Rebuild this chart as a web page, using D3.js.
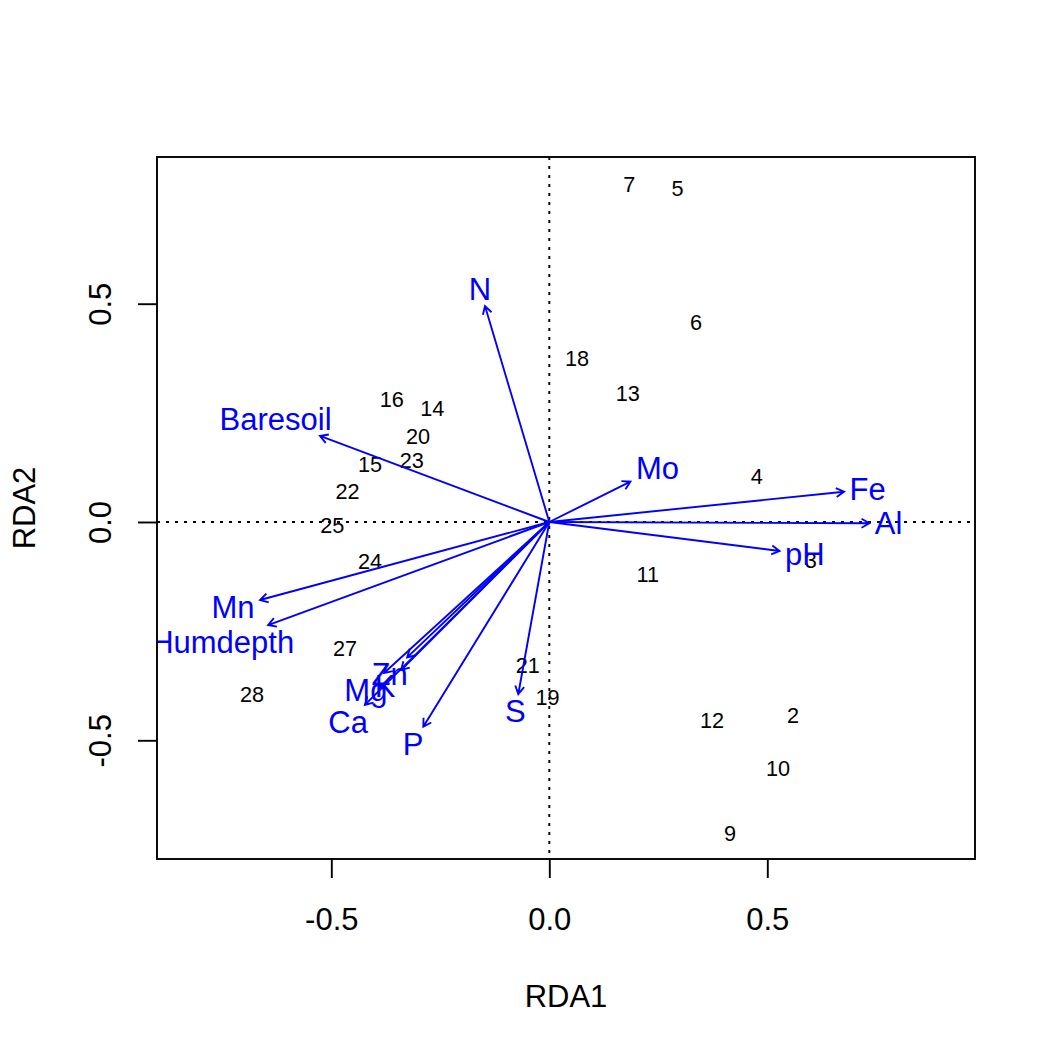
<!DOCTYPE html>
<html>
<head>
<meta charset="utf-8">
<script src="https://d3js.org/d3.v7.min.js"></script>
<style>
  body { margin: 0; background: #fff; }
  text { font-family: "Liberation Sans", Arial, Helvetica, sans-serif; }
</style>
</head>
<body>
<div id="my_dataviz"></div>
<script>
// site scores (RDA1, RDA2)
const siteNames = ["18","15","24","27","23","19","22","16","28","13","14","20",
                   "25","7","5","6","3","4","2","9","12","10","11","21"];
const siteRDA1 = [0.0635,-0.4112,-0.4112,-0.4686,-0.3156,-0.0041,-0.4628,-0.3615,-0.6819,0.1798,-0.2683,-0.3011,
                  -0.4977,0.1833,0.2940,0.3365,0.5998,0.4757,0.5589,0.4145,0.3732,0.5245,0.2257,-0.0495];
const siteRDA2 = [0.3740,0.1333,-0.0889,-0.2881,0.1409,-0.4013,0.0694,0.2822,-0.3956,0.2939,0.2604,0.1963,
                  -0.0069,0.7746,0.7643,0.4574,-0.0886,0.1038,-0.4420,-0.7123,-0.4535,-0.5634,-0.1202,-0.3282];

// biplot arrows for the environmental variables
const envNames = ["N","P","K","Ca","Mg","S","Al","Fe","Mn","Zn","Mo","Baresoil","Humdepth","pH"];
const envRDA1 = [-0.1475,-0.289,-0.340,-0.423,-0.379,-0.0711,0.734,0.676,-0.6635,-0.326,0.186,-0.526,-0.645,0.528];
const envRDA2 = [0.4947,-0.469,-0.339,-0.419,-0.346,-0.394,-0.003,0.0694,-0.1787,-0.310,0.0923,0.197,-0.236,-0.0664];

const xTicks = [-0.5, 0, 0.5];
const yTicks = [-0.5, 0, 0.5];
const xlim = [-0.8998, 0.9764];
const ylim = [-0.7719, 0.836];

const W = 1056, H = 1056;
const box = {left: 157, right: 975, top: 157, bottom: 859};
const fs = 31;          // cex = 1
const siteFs = 21.7;    // cex = 0.7
const lwd = 1.9;

const svg = d3.select("#my_dataviz")
  .append("svg")
    .attr("width", W)
    .attr("height", H);

const x = d3.scaleLinear().domain(xlim).range([box.left, box.right]);
const y = d3.scaleLinear().domain(ylim).range([box.bottom, box.top]);

svg.append("defs").append("clipPath").attr("id", "plotclip")
  .append("rect")
    .attr("x", box.left).attr("y", box.top)
    .attr("width", box.right - box.left).attr("height", box.bottom - box.top);

const plotG = svg.append("g").attr("clip-path", "url(#plotclip)");

// dotted reference lines through origin
plotG.append("line")
  .attr("x1", box.left).attr("x2", box.right)
  .attr("y1", y(0)).attr("y2", y(0))
  .attr("stroke", "black").attr("stroke-width", lwd).attr("stroke-dasharray", "3,6");
plotG.append("line")
  .attr("x1", x(0)).attr("x2", x(0))
  .attr("y1", box.top).attr("y2", box.bottom)
  .attr("stroke", "black").attr("stroke-width", lwd).attr("stroke-dasharray", "3,6");

// sites as text
plotG.selectAll(".site")
  .data(siteNames)
  .join("text")
    .attr("class", "site")
    .attr("x", (d, i) => x(siteRDA1[i]))
    .attr("y", (d, i) => y(siteRDA2[i]))
    .attr("dy", "0.358em")
    .attr("text-anchor", "middle")
    .style("font-size", siteFs + "px")
    .attr("fill", "black")
    .text(d => d);

// arrows
const headLen = 9, headAng = Math.PI / 6;
const env = envNames.map((d, i) => ({name: d, tx: x(envRDA1[i]), ty: y(envRDA2[i])}));
const ox = x(0), oy = y(0);

plotG.selectAll(".arrow")
  .data(env)
  .join("path")
    .attr("class", "arrow")
    .attr("fill", "none")
    .attr("stroke", "blue")
    .attr("stroke-width", lwd)
    .attr("d", d => {
      const a = Math.atan2(d.ty - oy, d.tx - ox);
      const p1 = [d.tx - headLen * Math.cos(a - headAng), d.ty - headLen * Math.sin(a - headAng)];
      const p2 = [d.tx - headLen * Math.cos(a + headAng), d.ty - headLen * Math.sin(a + headAng)];
      return `M${ox},${oy}L${d.tx},${d.ty}M${p1[0]},${p1[1]}L${d.tx},${d.ty}L${p2[0]},${p2[1]}`;
    });

// labels next to the arrow heads (like vegan's ordiArrowTextXY)
const labs = plotG.selectAll(".envlab")
  .data(env)
  .join("text")
    .attr("class", "envlab")
    .attr("text-anchor", "middle")
    .attr("dy", "0.358em")
    .style("font-size", fs + "px")
    .attr("fill", "blue")
    .text(d => d.name);

labs.each(function(d) {
  const w = this.getComputedTextLength();
  const h = 0.716 * fs;
  const dx = d.tx - ox, dy = oy - d.ty;
  const b = dy / dx;
  let offx = Math.sign(dx) * (w / 2 + h / 4);
  let offy = 0.75 * h * Math.sign(dy);
  const move = offy / b;
  if (isFinite(move) && Math.abs(move) <= Math.abs(offx)) offx = move;
  else offy = b * offx;
  d3.select(this).attr("x", d.tx + offx).attr("y", d.ty - offy);
});

// box
svg.append("rect")
  .attr("x", box.left).attr("y", box.top)
  .attr("width", box.right - box.left).attr("height", box.bottom - box.top)
  .attr("fill", "none").attr("stroke", "black").attr("stroke-width", lwd);

// axes
const fmt = d => d.toFixed(1);
const xAxis = svg.append("g")
  .attr("transform", `translate(0,${box.bottom})`)
  .call(d3.axisBottom(x).tickValues(xTicks).tickFormat(fmt).tickSize(19));
xAxis.select(".domain").remove();
xAxis.selectAll(".tick line").attr("stroke", "black").attr("stroke-width", lwd);
xAxis.selectAll(".tick text")
  .attr("y", 60).attr("dy", "0.358em")
  .attr("fill", "black")
  .style("font-size", fs + "px")
  .style("font-family", '"Liberation Sans", Arial, sans-serif');

const yAxis = svg.append("g")
  .attr("transform", `translate(${box.left},0)`)
  .call(d3.axisLeft(y).tickValues(yTicks).tickFormat(fmt).tickSize(19));
yAxis.select(".domain").remove();
yAxis.selectAll(".tick line").attr("stroke", "black").attr("stroke-width", lwd);
yAxis.selectAll(".tick text")
  .attr("x", 0).attr("y", 0).attr("dy", "0.358em")
  .attr("text-anchor", "middle")
  .attr("transform", "translate(-57,0) rotate(-90)")
  .attr("fill", "black")
  .style("font-size", fs + "px")
  .style("font-family", '"Liberation Sans", Arial, sans-serif');

// axis titles
svg.append("text")
  .attr("x", (box.left + box.right) / 2).attr("y", 996)
  .attr("dy", "0.358em")
  .attr("text-anchor", "middle")
  .style("font-size", fs + "px")
  .text("RDA1");
svg.append("text")
  .attr("transform", `translate(24,${(box.top + box.bottom) / 2}) rotate(-90)`)
  .attr("dy", "0.358em")
  .attr("text-anchor", "middle")
  .style("font-size", fs + "px")
  .text("RDA2");
</script>
</body>
</html>
